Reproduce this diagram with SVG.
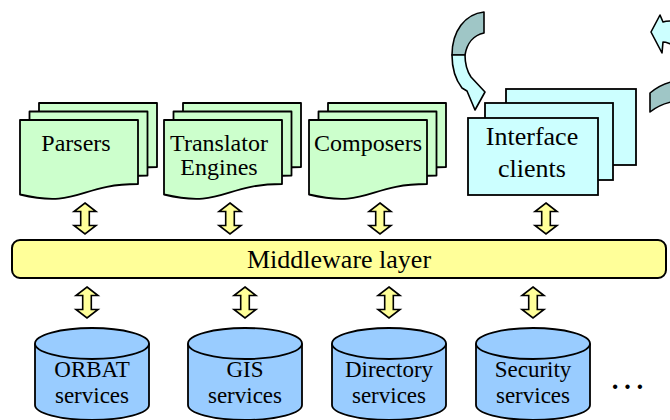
<svg xmlns="http://www.w3.org/2000/svg" width="670" height="420" viewBox="0 0 670 420">
  <style>
    .page { fill: #ccffcc; stroke: #000; stroke-width: 1.8; stroke-linejoin: round; }
    .client { fill: #ccffff; stroke: #000; stroke-width: 1.8; }
    .db { fill: #99ccff; stroke: #000; stroke-width: 1.8; }
    .bar { fill: #ffff99; stroke: #000; stroke-width: 2; }
    .dbl { fill: #ffff99; stroke: #000; stroke-width: 1.6; stroke-linejoin: miter; }
    .back { fill: #9fc6c6; stroke: #000; stroke-width: 1.6; stroke-linejoin: round; }
    .front { fill: #ccffff; stroke: #000; stroke-width: 1.6; stroke-linejoin: round; }
    text { font-family: "Liberation Serif", "Times New Roman", serif; fill: #000; text-anchor: middle; }
    .lbl { font-size: 24px; }
    .lbl26 { font-size: 26px; }
    .dbl-t { font-size: 23px; }
  </style>
  <defs>
    <!-- flowchart "document" sheet, 118 x 80 -->
    <path id="doc" d="M0,0 H118 V64 C59,64 59,88.5 0,74.5 Z"/>
    <!-- two-headed vertical arrow, 31 tall -->
    <path id="dblArrow" d="M0,0 L11,8.5 L4.3,8.5 L4.3,22.5 L11,22.5 L0,31 L-11,22.5 L-4.3,22.5 L-4.3,8.5 L-11,8.5 Z"/>
  </defs>

  <!-- curved arrows around the interface clients -->
  <g id="cycle-left">
    <path class="back" d="M484,12 L484,33 C474,35 467,43 465,55 L452,55 C452,31 465,14 484,12 Z"/>
    <path class="front" d="M452,55 L465,55 C465,64 467,71 471,77 L485,92 L475,110 L467,91 L462,88 C455,79 452,68 452,55 Z"/>
  </g>
  <g id="cycle-right">
    <path class="front" d="M651,32 L660,15 L663,22 C666,21 668,21 671,21 L671,44 C668,43 666,42 663,42 L662,53 Z"/>
    <path class="back" d="M650,93 C656,88 663,84 671,82 L671,102 C662,104 655,108 650,112 Z"/>
  </g>

  <g id="parsers">
    <use href="#doc" class="page" x="39" y="103"/>
    <use href="#doc" class="page" x="29.5" y="111.5"/>
    <use href="#doc" class="page" x="20" y="120"/>
    <text class="lbl" x="76" y="151">Parsers</text>
  </g>
  <g id="translator-engines">
    <use href="#doc" class="page" x="183" y="103"/>
    <use href="#doc" class="page" x="173.5" y="111.5"/>
    <use href="#doc" class="page" x="164" y="120"/>
    <text class="lbl" x="219" y="151">Translator</text>
    <text class="lbl" x="219" y="175">Engines</text>
  </g>
  <g id="composers">
    <use href="#doc" class="page" x="328" y="103"/>
    <use href="#doc" class="page" x="318.5" y="111.5"/>
    <use href="#doc" class="page" x="309" y="120"/>
    <text class="lbl" x="368" y="151">Composers</text>
  </g>
  <g id="interface-clients">
    <rect class="client" x="506" y="89" width="130" height="76"/>
    <rect class="client" x="485" y="103" width="128" height="77"/>
    <rect class="client" x="468" y="118" width="130" height="77"/>
    <text class="lbl26" x="532" y="145">Interface</text>
    <text class="lbl26" x="532" y="177">clients</text>
  </g>

  <g id="middleware">
    <rect class="bar" x="12" y="240" width="654" height="38" rx="8"/>
    <text x="339" y="268" style="font-size:26px">Middleware layer</text>
  </g>

  <g id="connectors">
    <use href="#dblArrow" class="dbl" x="85" y="203"/>
    <use href="#dblArrow" class="dbl" x="230" y="203"/>
    <use href="#dblArrow" class="dbl" x="380" y="203"/>
    <use href="#dblArrow" class="dbl" x="546" y="203"/>
    <use href="#dblArrow" class="dbl" x="87" y="287"/>
    <use href="#dblArrow" class="dbl" x="245" y="287"/>
    <use href="#dblArrow" class="dbl" x="389" y="287"/>
    <use href="#dblArrow" class="dbl" x="533" y="287"/>
  </g>

  <g id="orbat-services">
    <path class="db" d="M35,343.5 A57,15.5 0 0 1 149,343.5 V405 A57,15 0 0 1 35,405 Z"/>
    <path class="db" style="fill:none" d="M35,343.5 A57,15.5 0 0 0 149,343.5"/>
    <text class="dbl-t" x="92" y="377">ORBAT</text>
    <text class="dbl-t" x="92" y="403">services</text>
  </g>
  <g id="gis-services">
    <path class="db" d="M188,343.5 A57,15.5 0 0 1 302,343.5 V405 A57,15 0 0 1 188,405 Z"/>
    <path class="db" style="fill:none" d="M188,343.5 A57,15.5 0 0 0 302,343.5"/>
    <text class="dbl-t" x="245" y="377">GIS</text>
    <text class="dbl-t" x="245" y="403">services</text>
  </g>
  <g id="directory-services">
    <path class="db" d="M332,343.5 A57,15.5 0 0 1 446,343.5 V405 A57,15 0 0 1 332,405 Z"/>
    <path class="db" style="fill:none" d="M332,343.5 A57,15.5 0 0 0 446,343.5"/>
    <text class="dbl-t" x="389" y="377">Directory</text>
    <text class="dbl-t" x="389" y="403">services</text>
  </g>
  <g id="security-services">
    <path class="db" d="M476,343.5 A57,15.5 0 0 1 590,343.5 V405 A57,15 0 0 1 476,405 Z"/>
    <path class="db" style="fill:none" d="M476,343.5 A57,15.5 0 0 0 590,343.5"/>
    <text class="dbl-t" x="533" y="377">Security</text>
    <text class="dbl-t" x="533" y="403">services</text>
  </g>

  <text x="609" y="389" style="font-size:37px;text-anchor:start">…</text>
</svg>
